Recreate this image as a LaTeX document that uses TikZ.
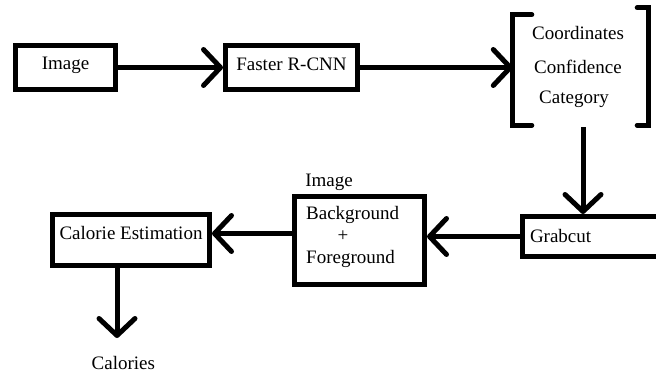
\documentclass[tikz,border=0pt]{standalone}
\usepackage{fontspec}
\setmainfont{Liberation Serif}
\usetikzlibrary{arrows.meta}
\tikzset{
  every node/.style={font=\fontsize{19}{22}\selectfont},
  bx/.style={draw, line width=5pt, inner sep=0pt, text depth=0pt, rectangle},
  txt/.style={inner sep=0pt},
  arr/.style={line width=5pt, -{Straight Barb[length=17pt,width=36pt,round]}},
  brk/.style={line width=5pt, line cap=round, line join=miter},
}
\begin{document}
\begin{tikzpicture}[x=1pt,y=-1pt]
\clip (0,0) rectangle (656,374);
\fill[white] (0,0) rectangle (656,374);
% boxes
\node[bx, minimum width=100pt, minimum height=44pt, text height=5pt] (img) at (65.5,67.5) {Image};
\node[bx, minimum width=132pt, minimum height=44pt, text height=6.4pt] (frcnn) at (291.5,67.5) {Faster R-CNN};
\node[minimum width=135pt, minimum height=110pt, inner sep=0pt] (res) at (580.5,70) {};
\node[txt, anchor=base] (coord) at (578,39.3) {Coordinates};
\node[txt, anchor=base] (conf) at (578,74) {Confidence};
\node[txt, anchor=base] (cat) at (574,103.3) {Category};
\node[bx, anchor=west, minimum height=40pt, text height=12.4pt, inner xsep=8pt, text width=180pt, align=left] (grab) at (519.5,236.5) {Grabcut};
\node[bx, minimum width=130pt, minimum height=88pt] (bg) at (359.5,240.5) {};
\node[txt, anchor=base] (bgimg) at (329,186.7) {Image};
\node[txt, anchor=base west] (back) at (306,219.3) {Background};
\node[txt] (plus) at (343,236) {+};
\node[txt, anchor=base west] (fore) at (306,263.3) {Foreground};
\node[bx, minimum width=157pt, minimum height=51pt, text height=0pt] (cal) at (131,240) {Calorie Estimation};
\node[txt, anchor=base] (cals) at (123.4,369) {Calories};
% brackets
\draw[brk] ([xshift=19pt]res.north west) -- (res.north west) -- (res.south west) -- ++(19,0);
\draw[brk] ([xshift=-11pt,yshift=7pt]res.north east) -- ([yshift=7pt]res.north east) -- (res.south east) -- ++(-11,0);
% connectors
\coordinate (d0) at ([xshift=2.5pt,yshift=-2pt]res.south);
\coordinate (calend) at (117,338);
\draw[arr] (img.east) -- (frcnn.west);
\draw[arr] (frcnn.east) -- (frcnn.east -| res.west);
\draw[arr] (d0) -- (d0 |- grab.north);
\draw[arr] (grab.west) -- (grab.west -| bg.east);
\draw[arr] ([yshift=7pt]bg.west) -- ([yshift=7pt]bg.west -| cal.east);
\draw[arr] (cal.south -| calend) -- (calend);
\end{tikzpicture}
\end{document}
